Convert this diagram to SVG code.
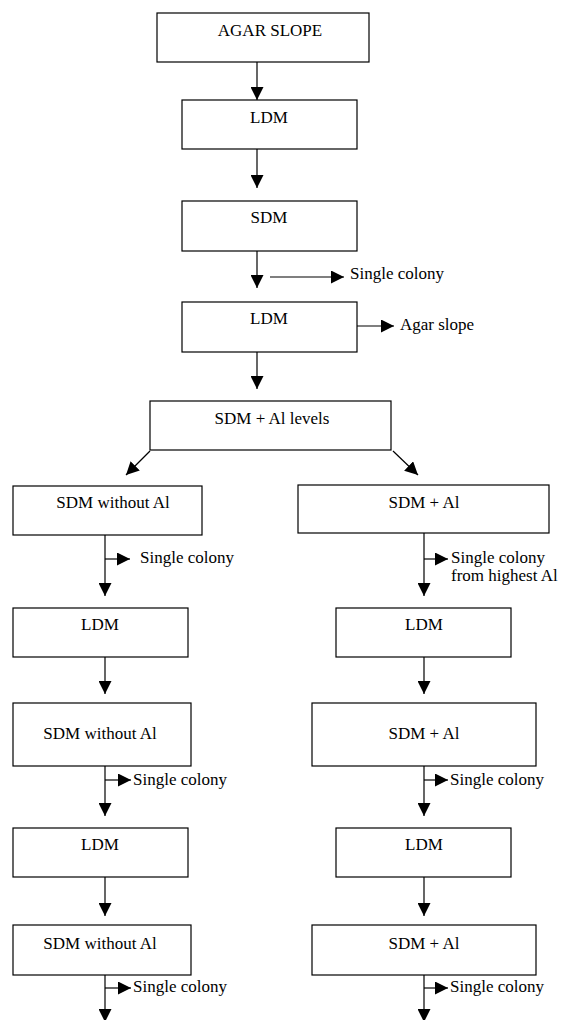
<svg xmlns="http://www.w3.org/2000/svg" width="563" height="1020" viewBox="0 0 563 1020">
<style>
rect{fill:#fff;stroke:#000;stroke-width:1.2}
line{stroke:#000;stroke-width:1.2}
text{font-family:"Liberation Serif","Times New Roman",serif;font-size:17px;fill:#000}
.c{text-anchor:middle}
</style>
<defs>
<marker id="ah" markerUnits="userSpaceOnUse" markerWidth="14" markerHeight="13" refX="13" refY="6.5" orient="auto" viewBox="0 0 14 13">
<path d="M0,0 L13,6.5 L0,13 z" fill="#000"/>
</marker>
</defs>
<rect width="563" height="1020" style="fill:#fff;stroke:none"/>
<g id="n1"><rect x="157" y="13" width="212" height="49"/><text class="c" x="270" y="36">AGAR SLOPE</text></g>
<g id="n2"><rect x="182" y="100" width="175" height="49"/><text class="c" x="269" y="123">LDM</text></g>
<g id="n3"><rect x="182" y="201" width="175" height="50"/><text class="c" x="269" y="223">SDM</text></g>
<g id="n4"><rect x="182" y="302" width="175" height="50"/><text class="c" x="269" y="324">LDM</text></g>
<g id="n5"><rect x="150" y="401" width="241" height="49"/><text class="c" x="272" y="424">SDM + Al levels</text></g>
<g id="l1"><rect x="13" y="486" width="189" height="49"/><text class="c" x="113" y="508">SDM without Al</text></g>
<g id="r1"><rect x="298" y="485" width="251" height="48"/><text class="c" x="424" y="508">SDM + Al</text></g>
<g id="l2"><rect x="13" y="608" width="175" height="49"/><text class="c" x="100" y="630">LDM</text></g>
<g id="r2"><rect x="336" y="608" width="175" height="49"/><text class="c" x="424" y="630">LDM</text></g>
<g id="l3"><rect x="13" y="703" width="178" height="63"/><text class="c" x="100" y="739">SDM without Al</text></g>
<g id="r3"><rect x="312" y="703" width="224" height="63"/><text class="c" x="424" y="739">SDM + Al</text></g>
<g id="l4"><rect x="13" y="828" width="175" height="49"/><text class="c" x="100" y="850">LDM</text></g>
<g id="r4"><rect x="336" y="828" width="175" height="49"/><text class="c" x="424" y="850">LDM</text></g>
<g id="l5"><rect x="13" y="925" width="178" height="50"/><text class="c" x="100" y="949">SDM without Al</text></g>
<g id="r5"><rect x="312" y="925" width="224" height="50"/><text class="c" x="424" y="949">SDM + Al</text></g>
<g id="labels">
<text x="350" y="279">Single colony</text>
<text x="400" y="330">Agar slope</text>
<text x="140" y="563">Single colony</text>
<text x="451" y="563">Single colony</text>
<text x="451" y="581">from highest Al</text>
<text x="133" y="785">Single colony</text>
<text x="450" y="785">Single colony</text>
<text x="133" y="992">Single colony</text>
<text x="450" y="992">Single colony</text>
</g>
<g id="connectors" marker-end="url(#ah)">
<line x1="257" y1="62" x2="257" y2="100"/>
<line x1="257" y1="149" x2="257" y2="188"/>
<line x1="257" y1="251" x2="257" y2="288"/>
<line x1="270" y1="277" x2="344" y2="277"/>
<line x1="357" y1="326" x2="394" y2="326"/>
<line x1="257" y1="352" x2="257" y2="389"/>
<line x1="150" y1="451" x2="126" y2="475"/>
<line x1="393" y1="451" x2="418" y2="475"/>
<line x1="105" y1="535" x2="105" y2="596"/>
<line x1="105" y1="559" x2="130" y2="559"/>
<line x1="424" y1="533" x2="424" y2="596"/>
<line x1="424" y1="559" x2="448" y2="559"/>
<line x1="105" y1="657" x2="105" y2="694"/>
<line x1="424" y1="657" x2="424" y2="694"/>
<line x1="105" y1="766" x2="105" y2="816"/>
<line x1="105" y1="780" x2="131" y2="780"/>
<line x1="424" y1="766" x2="424" y2="816"/>
<line x1="424" y1="780" x2="448" y2="780"/>
<line x1="105" y1="877" x2="105" y2="916"/>
<line x1="424" y1="877" x2="424" y2="916"/>
<line x1="105" y1="975" x2="105" y2="1022"/>
<line x1="105" y1="988" x2="131" y2="988"/>
<line x1="424" y1="975" x2="424" y2="1022"/>
<line x1="424" y1="988" x2="448" y2="988"/>
</g>
</svg>
